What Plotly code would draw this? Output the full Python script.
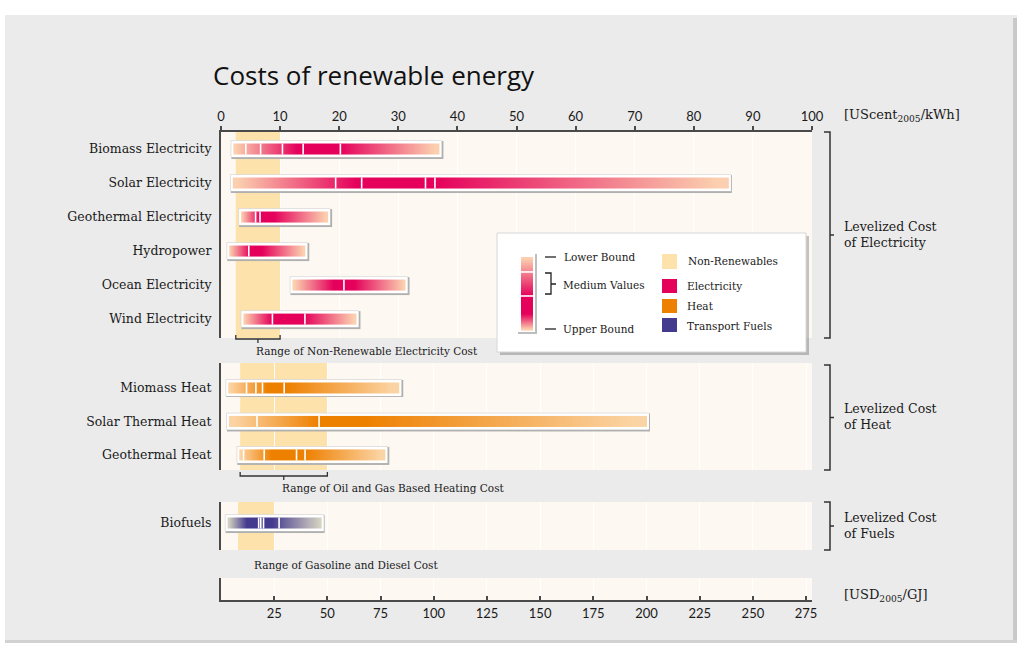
import numpy as np
import plotly.graph_objects as go

# ---------------- data ----------------
elec_names = ["Biomass Electricity", "Solar Electricity", "Geothermal Electricity",
              "Hydropower", "Ocean Electricity", "Wind Electricity"]
elec_low = [2.1, 2.0, 3.4, 1.4, 12.1, 3.8]            # USct2005/kWh
elec_high = [37.0, 85.9, 18.2, 14.3, 31.3, 23.0]
elec_medium = [[4.2, 6.7, 10.4, 13.9, 20.2], [19.4, 23.8, 34.6, 36.2],
               [5.85, 6.6], [4.7], [20.8], [8.7, 14.2]]
elec_peak_low = [13.0, 23.0, 6.6, 5.0, 19.0, 8.7]     # most saturated range
elec_peak_high = [20.2, 36.2, 9.0, 7.0, 22.5, 14.2]

heat_names = ["Miomass Heat", "Solar Thermal Heat", "Geothermal Heat"]
heat_low = [3.4, 3.75, 8.6]                           # USD2005/GJ
heat_high = [83.9, 200.0, 77.3]
heat_medium = [[12.0, 16.4, 19.5, 29.7], [16.9, 46.1], [10.6, 20.3, 35.5, 39.5]]
heat_peak_low = [22.0, 46.1, 24.0]
heat_peak_high = [31.0, 68.0, 40.0]

fuel_names = ["Biofuels"]
fuel_low = [3.1]
fuel_high = [47.2]
fuel_medium = [[17.7, 18.7, 20.0, 27.3]]
fuel_peak_low = [12.0]
fuel_peak_high = [24.0]

nonren_elec = [2.5, 10.0]
nonren_heat = [9.0, 50.0]
nonren_fuel = [8.0, 25.0]

elec_ticks = [0, 10, 20, 30, 40, 50, 60, 70, 80, 90, 100]
gj_ticks = [25, 50, 75, 100, 125, 150, 175, 200, 225, 250, 275]

legend_sample_low, legend_sample_high = 0.0, 1.0
legend_sample_medium = [0.205, 0.534]
legend_sample_peak = [0.534, 0.78]

# ---------------- geometry ----------------
W, H = 1022, 649
ML, MR, MT, MB = 221, 210, 132, 49
PW, PH = W - ML - MR, H - MT - MB


def fx(px):
    return (px - ML) / PW


def fy(py):
    return (H - MB - py) / PH


SERIF = "DejaVu Serif"
SANS = "Lato"
INK = "#1a1a1a"
AXIS = "#4a4a4a"

ELEC_MAX = 100.0
GJ_MAX = ELEC_MAX / 100 * 1e9 / 3.6e6   # 1 USD/kWh expressed in USD/GJ


def rgb(c):
    return "rgb(%d,%d,%d)" % tuple(int(round(v)) for v in c)


def mix(a, b, t):
    return tuple(a[i] + (b[i] - a[i]) * t for i in range(3))


def intensity(xc, lo, hi, plo, phi):
    t = np.ones_like(xc)
    up = xc < plo
    t[up] = (xc[up] - lo) / max(plo - lo, 1e-9)
    dn = xc > phi
    t[dn] = (hi - xc[dn]) / max(hi - phi, 1e-9)
    return np.clip(t, 0.04, 1)


panels = [
    dict(key="", names=elec_names, low=elec_low, high=elec_high, med=elec_medium,
         plo=elec_peak_low, phi=elec_peak_high, band=nonren_elec, xmax=ELEC_MAX,
         top=132, bot=338, yr=[5.556, -0.5], light=(252, 216, 178), full=(229, 0, 91),
         label="Levelized Cost<br>of Electricity", btop=132, bbot=338),
    dict(key="2", names=heat_names, low=heat_low, high=heat_high, med=heat_medium,
         plo=heat_peak_low, phi=heat_peak_high, band=nonren_heat, xmax=GJ_MAX,
         top=363, bot=470, yr=[2.45, -0.746], light=(252, 216, 172), full=(238, 128, 0),
         label="Levelized Cost<br>of Heat", btop=365, bbot=470),
    dict(key="3", names=fuel_names, low=fuel_low, high=fuel_high, med=fuel_medium,
         plo=fuel_peak_low, phi=fuel_peak_high, band=nonren_fuel, xmax=GJ_MAX,
         top=502, bot=550, yr=[0.794, -0.618], light=(218, 216, 196), full=(68, 58, 142),
         label="Levelized Cost<br>of Fuels", btop=502, bbot=550),
]

fig = go.Figure()
shapes = []
annotations = []
layout_axes = {}

for p in panels:
    k = p["key"]
    xa, ya = "x" + k, "y" + k
    ppx = PW / p["xmax"]
    ppy = (p["bot"] - p["top"]) / (p["yr"][0] - p["yr"][1])
    fh, ih = 16 / ppy, 11 / ppy
    pad = 2 / ppx
    cs = [[0, rgb(p["light"])], [1, rgb(p["full"])]]
    for i, name in enumerate(p["names"]):
        lo, hi = p["low"][i], p["high"][i]
        # soft shadow (right / bottom)
        fig.add_trace(go.Heatmap(x=[lo - pad, hi + pad + 1.5 / ppx],
                                 y=[i - fh / 2, i + fh / 2 + 1.5 / ppy],
                                 z=[[1]], colorscale=[[0, "#b0b0b0"], [1, "#b0b0b0"]],
                                 showscale=False, hoverinfo="skip", xaxis=xa, yaxis=ya))
        # light outline
        fig.add_trace(go.Heatmap(x=[lo - pad - 0.8 / ppx, hi + pad],
                                 y=[i - fh / 2 - 0.8 / ppy, i + fh / 2],
                                 z=[[1]], colorscale=[[0, "#dcdcdc"], [1, "#dcdcdc"]],
                                 showscale=False, hoverinfo="skip", xaxis=xa, yaxis=ya))
        # white frame
        fig.add_trace(go.Heatmap(x=[lo - pad, hi + pad], y=[i - fh / 2, i + fh / 2],
                                 z=[[1]], colorscale=[[0, "white"], [1, "white"]],
                                 showscale=False, hoverinfo="skip", xaxis=xa, yaxis=ya))
        # gradient body
        n = max(int((hi - lo) * ppx), 2)
        xe = np.linspace(lo, hi, n + 1)
        xc = (xe[:-1] + xe[1:]) / 2
        z = intensity(xc, lo, hi, p["plo"][i], p["phi"][i])
        fig.add_trace(go.Heatmap(x=xe, y=[i - ih / 2, i + ih / 2], z=[z],
                                 colorscale=cs, zmin=0, zmax=1, showscale=False,
                                 hoverinfo="skip", xaxis=xa, yaxis=ya))
    # medium-value separators
    for i, meds in enumerate(p["med"]):
        xs, ys = [], []
        for m in meds:
            xs += [m, m, None]
            ys += [i - ih / 2, i + ih / 2, None]
        fig.add_trace(go.Scatter(x=xs, y=ys, mode="lines", line=dict(color="white", width=1.6),
                                 hoverinfo="skip", xaxis=xa, yaxis=ya))
    # non-renewable band
    shapes.append(dict(type="rect", xref=xa, yref=ya + " domain", x0=p["band"][0], x1=p["band"][1],
                       y0=0, y1=1, fillcolor="#fde2ab", line=dict(width=0), layer="below"))
    # right bracket + label
    t, b = p["btop"], p["bbot"]
    m = (t + b) / 2
    shapes.append(dict(type="path", xref="paper", yref="paper",
                       path="M %f,%f L %f,%f L %f,%f L %f,%f M %f,%f L %f,%f" % (
                           fx(824), fy(t), fx(830), fy(t), fx(830), fy(b), fx(824), fy(b),
                           fx(830), fy(m), fx(834), fy(m)),
                       line=dict(color="#333", width=1.5), layer="above"))
    annotations.append(dict(x=fx(842), y=fy(m - 1), xref="paper", yref="paper", text=p["label"],
                            xanchor="left", yanchor="middle", align="left", showarrow=False,
                            font=dict(family=SERIF, size=12.5, color=INK)))
    dom = [fy(p["bot"]), fy(p["top"])]
    layout_axes["yaxis" + k] = dict(domain=dom, anchor=xa, range=p["yr"],
                                    tickvals=list(range(len(p["names"]))), ticktext=p["names"],
                                    ticks="outside", ticklen=5, tickcolor="rgba(0,0,0,0)",
                                    showgrid=False, zeroline=False, showline=True,
                                    linecolor=AXIS, linewidth=2,
                                    tickfont=dict(family=SERIF, size=12.5, color=INK))
    if k == "":
        layout_axes["xaxis"] = dict(domain=[0, 1], anchor="y", range=[0, ELEC_MAX], side="top",
                                    tickvals=elec_ticks, ticks="outside", ticklen=4, tickwidth=1.5,
                                    tickcolor=AXIS, showline=True, linecolor=AXIS, linewidth=2,
                                    showgrid=True, gridcolor="white", gridwidth=1.3, zeroline=False,
                                    tickfont=dict(family=SANS, size=13, color=INK))
    else:
        layout_axes["xaxis" + k] = dict(domain=[0, 1], anchor=ya, range=[0, GJ_MAX],
                                        tickvals=gj_ticks, showticklabels=False, ticks="",
                                        showline=False, showgrid=True, gridcolor="white",
                                        gridwidth=1.3, zeroline=False)

# bottom strip with the USD/GJ axis
layout_axes["yaxis4"] = dict(domain=[0, fy(578)], anchor="x4", range=[0, 1], showticklabels=False,
                             ticks="", showgrid=False, zeroline=False, showline=True,
                             linecolor=AXIS, linewidth=2)
layout_axes["xaxis4"] = dict(domain=[0, 1], anchor="y4", range=[0, GJ_MAX], tickvals=gj_ticks,
                             ticks="inside", ticklen=4, tickwidth=1.5, tickcolor=AXIS,
                             showline=True, linecolor=AXIS, linewidth=2, showgrid=True,
                             gridcolor="white", gridwidth=1.3, zeroline=False,
                             tickfont=dict(family=SANS, size=13, color=INK))
fig.add_trace(go.Scatter(x=[None], y=[None], xaxis="x4", yaxis="y4", hoverinfo="skip"))

# brackets and labels beneath the non-renewable ranges
for xa, band, ly, txt, draw in [("x", nonren_elec, 339, "Range of Non-Renewable Electricity Cost", True),
                                ("x2", nonren_heat, 476, "Range of Oil and Gas Based Heating Cost", True),
                                ("x3", nonren_fuel, 0, "Range of Gasoline and Diesel Cost", False)]:
    mid = (band[0] + band[1]) / 2
    if draw:
        shapes.append(dict(type="path", xref=xa, yref="paper",
                           path="M %f,%f L %f,%f L %f,%f L %f,%f M %f,%f L %f,%f" % (
                               band[0], fy(ly - 4), band[0], fy(ly), band[1], fy(ly), band[1], fy(ly - 4),
                               mid, fy(ly), mid, fy(ly + 4)),
                           line=dict(color="#333", width=1.3), layer="above"))
        ty = ly + 12
    else:
        ty = 565
    annotations.append(dict(x=mid, y=fy(ty), xref=xa, yref="paper", text=txt, xanchor="left",
                            yanchor="middle", showarrow=False, xshift=-4,
                            font=dict(family=SERIF, size=10.5, color=INK)))

# units + title
annotations.append(dict(x=fx(842), y=fy(116), xref="paper", yref="paper",
                        text="[UScent<sub>2005</sub>/kWh]", xanchor="left", yanchor="middle",
                        showarrow=False, font=dict(family=SERIF, size=13, color=INK)))
annotations.append(dict(x=fx(842), y=fy(595), xref="paper", yref="paper",
                        text="[USD<sub>2005</sub>/GJ]", xanchor="left", yanchor="middle",
                        showarrow=False, font=dict(family=SERIF, size=13, color=INK)))
annotations.append(dict(x=fx(211), y=fy(75), xref="paper", yref="paper",
                        text="Costs of renewable energy", xanchor="left", yanchor="middle",
                        showarrow=False, font=dict(family="Open Sans", size=26, color="#111")))


def prect(x0, y0, x1, y1, **kw):
    d = dict(type="rect", xref="paper", yref="paper", x0=fx(x0), x1=fx(x1), y0=fy(y1), y1=fy(y0))
    d.update(kw)
    return d


# card look (white outside edges, shadow)
for r in [(0, 0, 5, H), (0, 0, W, 15), (1017, 0, W, H), (0, 643, W, H)]:
    shapes.append(prect(*r, fillcolor="white", line=dict(width=0), layer="below"))
shapes.append(prect(1013, 18, 1017, 643, fillcolor="#c9c9c9", line=dict(width=0), layer="below"))
shapes.append(prect(5, 640, 1017, 643, fillcolor="#d2d2d2", line=dict(width=0), layer="below"))

# ---------------- legend box ----------------
shapes.append(prect(500, 236, 809, 355, fillcolor="rgba(0,0,0,0.22)", line=dict(width=0), layer="above"))
shapes.append(prect(497, 233, 806, 352, fillcolor="white", line=dict(color="#d6d6d6", width=1), layer="above"))
# legend sample bar
shapes.append(prect(518, 254, 537, 334, fillcolor="#bdbdbd", line=dict(width=0), layer="above"))
shapes.append(prect(518, 254, 535, 332, fillcolor="white", line=dict(width=0), layer="above"))
e = panels[0]
bar_top, bar_bot = 257.0, 330.0
nrow = int(bar_bot - bar_top)
edges = np.linspace(legend_sample_low, legend_sample_high, nrow + 1)
cen = (edges[:-1] + edges[1:]) / 2
ints = intensity(cen, legend_sample_low, legend_sample_high, *legend_sample_peak)
for j in range(nrow):
    y0 = bar_top + (bar_bot - bar_top) * edges[j]
    y1 = bar_top + (bar_bot - bar_top) * edges[j + 1] + 0.6
    shapes.append(prect(521, y0, 533, y1, fillcolor=rgb(mix(e["light"], e["full"], ints[j])),
                        line=dict(width=0), layer="above"))
for mval in legend_sample_medium:
    yy = bar_top + (bar_bot - bar_top) * mval
    shapes.append(dict(type="line", xref="paper", yref="paper", x0=fx(521), x1=fx(533), y0=fy(yy), y1=fy(yy),
                       line=dict(color="white", width=1.6), layer="above"))
# lower / upper bound dashes and medium bracket
for yy in (257, 329):
    shapes.append(dict(type="line", xref="paper", yref="paper", x0=fx(545), x1=fx(556), y0=fy(yy), y1=fy(yy),
                       line=dict(color="#222", width=1.3), layer="above"))
shapes.append(dict(type="path", xref="paper", yref="paper",
                   path="M %f,%f L %f,%f L %f,%f L %f,%f M %f,%f L %f,%f" % (
                       fx(545), fy(273), fx(551), fy(273), fx(551), fy(294), fx(545), fy(294),
                       fx(551), fy(284), fx(556), fy(284)),
                   line=dict(color="#222", width=1.3), layer="above"))
for txt, yy, xx in [("Lower Bound", 257, 562), ("Medium Values", 285, 561), ("Upper Bound", 329, 561)]:
    annotations.append(dict(x=fx(xx), y=fy(yy), xref="paper", yref="paper", text=txt, xanchor="left",
                            yanchor="middle", showarrow=False, font=dict(family=SERIF, size=10.5, color=INK)))
legend_items = [("Non-Renewables", "#fde2ab", 254, 269, 261, 686),
                ("Electricity", rgb(panels[0]["full"]), 279, 293, 286, 685),
                ("Heat", rgb(panels[1]["full"]), 299, 313, 306, 685),
                ("Transport Fuels", rgb(panels[2]["full"]), 318, 332, 326, 685)]
for txt, col, y0, y1, ty, tx in legend_items:
    shapes.append(prect(662, y0, 677, y1, fillcolor=col, line=dict(width=0), layer="above"))
    annotations.append(dict(x=fx(tx), y=fy(ty), xref="paper", yref="paper", text=txt, xanchor="left",
                            yanchor="middle", showarrow=False, font=dict(family=SERIF, size=10.5, color=INK)))

fig.update_layout(width=W, height=H, margin=dict(l=ML, r=MR, t=MT, b=MB, pad=0),
                  paper_bgcolor="#ebebeb", plot_bgcolor="#fdf8f1", showlegend=False,
                  hovermode=False, shapes=shapes, annotations=annotations, **layout_axes)

fig.write_html("out.html", post_script="document.body.style.margin='0px';",
               config={"displayModeBar": False})
